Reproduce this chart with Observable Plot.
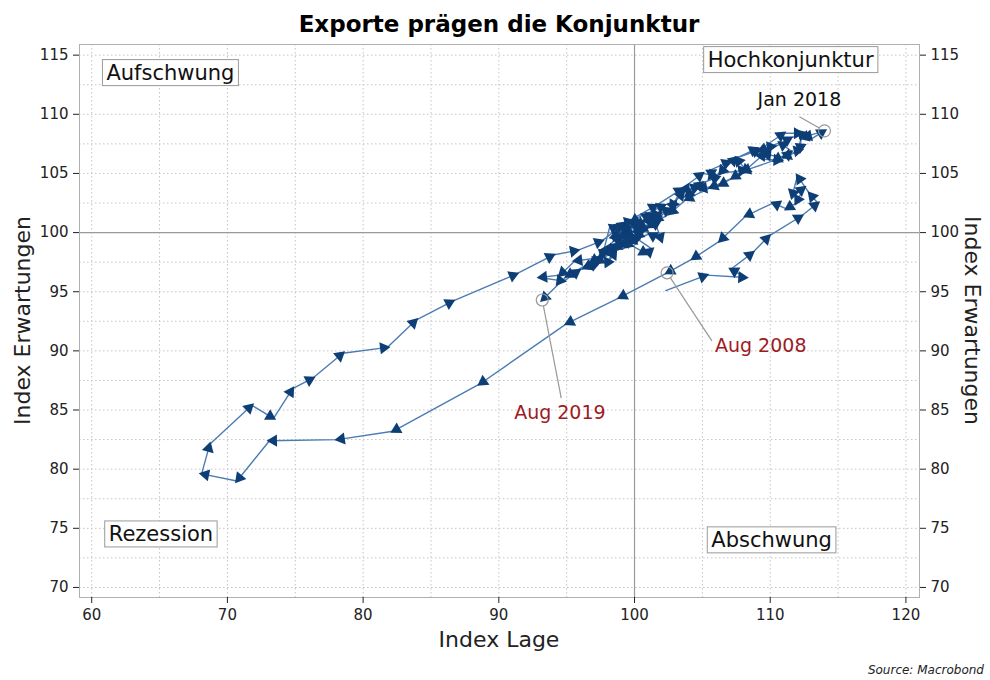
<!DOCTYPE html>
<html><head><meta charset="utf-8">
<script src="https://cdn.jsdelivr.net/npm/d3@7"></script>
<script src="https://cdn.jsdelivr.net/npm/@observablehq/plot@0.6"></script>
<style>
body{margin:0;background:#fff;font-family:"DejaVu Sans",Verdana,sans-serif;}
#title{height:40px;text-align:center;font-weight:bold;font-size:23px;line-height:23px;padding:13px 0 0 8px;box-sizing:border-box;color:#000;}
#chart{height:620px;}
#source{height:20px;text-align:right;font-style:italic;font-size:12px;line-height:20px;padding-right:6px;color:#222;}
</style></head><body>
<div id="title">Exporte prägen die Konjunktur</div>
<div id="chart"></div>
<div id="source">Source: Macrobond</div>
<script>
// ---- data (monthly, starting Feb 2007) ----
const startMonth = "2007-02-01";
const lage = [
  102.3,105.3,108.2,107.1,108.7,109.9,112.3,113.5,112.9,112.0,111.6,112.5,111.9,111.2,110.2,108.2,106.3,104.3,102.4,
  98.9,95.0,88.6,82.2,78.1,73.1,70.7,68.1,68.7,71.8,73.4,74.8,76.3,78.5,81.8,83.9,86.6,91.3,
  94.0,95.8,97.6,99.3,101.6,103.5,105.0,106.0,107.5,109.2,
  111.0,112.3,112.2,111.0,109.5,108.0,106.3,104.8,103.5,102.7,101.5,100.6,
  99.8,100.9,99.4,98.2,97.6,95.6,94.5,93.0,94.8,95.9,97.3,98.0,
  99.0,100.3,99.1,97.9,98.6,99.7,100.6,101.8,100.9,102.2,101.4,102.0,
  101.1,99.6,100.5,99.2,98.3,99.7,98.9,97.2,96.3,97.5,98.8,99.4,
  100.3,99.0,98.5,99.8,100.9,101.3,99.9,98.6,99.8,100.8,101.2,100.2,
  99.3,98.0,99.0,100.5,101.9,100.7,102.6,103.0,103.6,104.7,103.8,105.0,
  106.2,105.4,107.0,106.3,108.2,107.5,109.0,110.3,109.4,111.5,112.6,113.0,
  114.0,
  112.3,111.9,110.7,109.2,109.5,110.8,111.5,110.3,108.0,107.2,105.6,103.8,102.6,101.0,100.1,98.5,96.8,95.0,93.2
];
const erwartungen = [
  95.1,96.4,96.2,96.9,98.3,99.7,101.4,102.5,103.3,104.8,103.0,103.8,102.5,102.0,102.5,101.4,99.3,97.8,96.6,
  94.5,92.3,87.2,83.2,82.5,82.4,79.0,79.6,82.1,85.4,84.3,86.8,87.7,89.8,90.3,92.6,94.2,96.5,
  98.1,98.5,99.3,100.8,102.3,103.7,105.0,104.8,106.3,107.0,
  108.4,108.4,106.9,106.4,106.6,105.1,104.0,103.7,103.7,102.1,101.0,101.5,
  100.9,100.2,99.6,100.6,97.9,97.6,96.4,96.2,95.9,96.8,97.4,98.8,
  99.8,100.8,100.0,97.2,98.4,99.4,100.1,100.9,101.6,102.3,101.2,99.3,
  99.9,99.2,100.2,99.9,99.6,100.5,98.7,97.5,97.0,97.9,99.0,100.0,
  100.9,100.4,99.4,98.9,98.2,98.6,99.7,100.6,101.0,100.4,101.3,100.6,
  99.3,98.4,99.6,100.9,101.6,101.0,102.0,102.6,103.4,103.9,103.1,104.2,
  104.7,105.2,106.0,105.0,105.3,106.3,107.1,107.3,106.6,108.0,108.4,107.9,
  108.6,
  108.0,106.6,107.6,106.9,106.2,106.1,106.8,106.1,105.2,104.6,103.8,102.8,101.6,100.5,99.6,98.7,97.5,96.3,94.3
];
const xTicks = [60, 70, 80, 90, 100, 110, 120];
const yTicks = [70, 75, 80, 85, 90, 95, 100, 105, 110, 115];
const quadrantLabels = ["Aufschwung", "Hochkonjunktur", "Rezession", "Abschwung"];
const highlightMonths = ["2008-08", "2018-01", "2019-08"];
const highlightLabels = ["Aug 2008", "Jan 2018", "Aug 2019"];

// ---- build ----
const start = new Date(startMonth);
const data = lage.map((x, i) => ({date: d3.utcMonth.offset(start, i), x, y: erwartungen[i]}));
const fmt = d3.utcFormat("%Y-%m");

const W = 990, H = 620, mL = 79, mR = 71, mT = 4, mB = 63;
const xDomain = [59.1, 121], yDomain = [69.15, 115.9];
const kx = (W - mL - mR) / (xDomain[1] - xDomain[0]);
const ky = (H - mT - mB) / (yDomain[1] - yDomain[0]);

const arrows = data.slice(1).map((d, i) => {
  const p = data[i];
  const dx = (d.x - p.x) * kx, dy = (d.y - p.y) * ky;
  const L = Math.hypot(dx, dy) || 1, back = 4;
  return {x: d.x - dx / L * back / kx, y: d.y - dy / L * back / ky, angle: Math.atan2(dx, dy) * 180 / Math.PI};
});

const hl = highlightMonths.map((m, i) => {
  const d = data.find(e => fmt(e.date) === m);
  return {label: highlightLabels[i], x: d.x, y: d.y};
});
// label placement (data units) for annotations
const labelPos = {"Aug 2008": [109.3, 90.4, 105.7, 90.85], "Jan 2018": [112.15, 111.25, 112.15, 109.8], "Aug 2019": [94.5, 84.75, 94.6, 86.0]};
const ann = hl.map(h => {
  const [lx, ly, ex, ey] = labelPos[h.label];
  const dx = (ex - h.x) * kx, dy = (ey - h.y) * ky, L = Math.hypot(dx, dy) || 1;
  return {...h, lx, ly, ex, ey, sx: h.x + dx / L * 6 / kx, sy: h.y + dy / L * 6 / ky};
});
const quadPos = {"Aufschwung": [65.8, 113.5], "Hochkonjunktur": [111.5, 114.6], "Rezession": [65.1, 74.5], "Abschwung": [110.1, 74.0]};
const quads = quadrantLabels.map(q => ({label: q, x: quadPos[q][0], y: quadPos[q][1]}));

const plot = Plot.plot({
  width: W, height: H,
  marginLeft: mL, marginRight: mR, marginTop: mT, marginBottom: mB,
  style: {fontFamily: "DejaVu Sans, Verdana, sans-serif", fontSize: "15px", color: "#222", background: "#fff"},
  x: {domain: xDomain, label: null},
  y: {domain: yDomain, label: null},
  marks: [
    Plot.gridX(d3.range(60, 121, 5), {stroke: "#c4c4c4", strokeOpacity: 1, strokeDasharray: "1.5,2.5"}),
    Plot.gridY(d3.range(70, 115.1, 2.5), {stroke: "#c4c4c4", strokeOpacity: 1, strokeDasharray: "1.5,2.5"}),
    Plot.ruleX([100], {stroke: "#9a9a9a", strokeWidth: 1.2}),
    Plot.ruleY([100], {stroke: "#9a9a9a", strokeWidth: 1.2}),
    Plot.frame({stroke: "#b0b0b0"}),
    Plot.axisX(xTicks, {anchor: "bottom", tickSize: 6, tickPadding: 6, fontSize: 15, label: null}),
    Plot.axisY(yTicks, {anchor: "left", tickSize: 6, tickPadding: 5, fontSize: 15, label: null}),
    Plot.axisY(yTicks, {anchor: "right", tickSize: 6, tickPadding: 5, fontSize: 15, label: null}),
    Plot.line(data, {x: "x", y: "y", curve: "linear", stroke: "#4a7cb3", strokeWidth: 1.4}),
    Plot.dot(arrows, {x: "x", y: "y", symbol: "triangle", r: 4.5, fill: "#0d3e76", stroke: "none", rotate: "angle"}),
    Plot.dot(hl, {x: "x", y: "y", r: 6, stroke: "#999", strokeWidth: 1.2, fill: "none"}),
    Plot.link(ann, {x1: "sx", y1: "sy", x2: "ex", y2: "ey", stroke: "#999", strokeWidth: 1.2}),
    Plot.text(ann, {x: "lx", y: "ly", text: "label", fontSize: 19, fill: d => d.label === "Jan 2018" ? "#111" : "#9e1a1f"}),
    Plot.text(quads, {x: "x", y: "y", text: "label", fontSize: 21, fill: "#111"})
  ]
});
document.getElementById("chart").append(plot);

// boxes behind quadrant labels
const svg = d3.select(plot);
svg.selectAll("text").filter(function() { return quadrantLabels.includes(this.textContent); }).each(function() {
  const b = this.getBBox();
  const r = document.createElementNS("http://www.w3.org/2000/svg", "rect");
  r.setAttribute("x", b.x - 4); r.setAttribute("y", b.y - 1);
  r.setAttribute("width", b.width + 8); r.setAttribute("height", b.height + 2);
  r.setAttribute("fill", "#fff"); r.setAttribute("stroke", "#999"); r.setAttribute("stroke-width", 1);
  if (this.getAttribute("transform")) r.setAttribute("transform", this.getAttribute("transform"));
  this.parentNode.insertBefore(r, this);
});
// axis titles
svg.append("text").attr("transform", `translate(22,${(mT + H - mB) / 2}) rotate(-90)`).attr("text-anchor", "middle").attr("dy", "0.35em")
  .attr("font-size", 22).attr("fill", "#222").text("Index Erwartungen");
svg.append("text").attr("transform", `translate(${W - 17},${(mT + H - mB) / 2}) rotate(90)`).attr("text-anchor", "middle").attr("dy", "0.35em")
  .attr("font-size", 22).attr("fill", "#222").text("Index Erwartungen");
svg.append("text").attr("x", (mL + W - mR) / 2).attr("y", H - 13).attr("text-anchor", "middle")
  .attr("font-size", 22).attr("fill", "#222").text("Index Lage");
</script>
</body></html>
